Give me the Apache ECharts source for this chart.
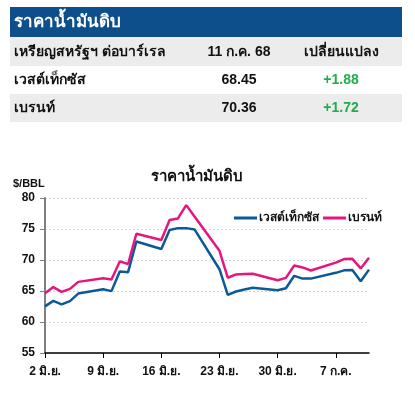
<!DOCTYPE html>
<html>
<head>
<meta charset="utf-8">
<script src="https://cdn.jsdelivr.net/npm/echarts@6/dist/echarts.min.js"></script>
<style>
html,body{margin:0;padding:0;background:#fff;}
#c{width:415px;height:396px;}
</style>
</head>
<body>
<div id="c"></div>
<script>
// ---- data ----
var dates = ['2025-06-02','2025-06-03','2025-06-04','2025-06-05','2025-06-06',
  '2025-06-09','2025-06-10','2025-06-11','2025-06-12','2025-06-13',
  '2025-06-16','2025-06-17','2025-06-18','2025-06-19','2025-06-20',
  '2025-06-23','2025-06-24','2025-06-25','2025-06-26','2025-06-27',
  '2025-06-30','2025-07-01','2025-07-02','2025-07-03','2025-07-04',
  '2025-07-07','2025-07-08','2025-07-09','2025-07-10','2025-07-11'];
var wti = [62.52,63.41,62.85,63.37,64.58,
  65.29,64.98,68.15,68.04,72.98,
  71.77,74.84,75.14,75.14,74.93,
  68.51,64.37,64.92,65.24,65.52,
  65.11,65.45,67.45,67.00,67.00,
  67.93,68.33,68.38,66.57,68.45];
var brent = [64.63,65.63,64.86,65.34,66.47,
  67.04,66.87,69.77,69.36,74.23,
  73.23,76.45,76.70,78.85,77.01,
  71.48,67.14,67.68,67.73,67.77,
  66.74,67.11,69.11,68.80,68.30,
  69.58,70.15,70.19,68.64,70.36];
var seriesNames = ['เวสต์เท็กซัส','เบรนท์'];
var xTickLabels = ['2 มิ.ย.','9 มิ.ย.','16 มิ.ย.','23 มิ.ย.','30 มิ.ย.','7 ก.ค.'];
var axisStart = '2025-06-02';
var axisEnd = '2025-07-11';
var yTicks = [55,60,65,70,75,80];
var tableHeader = ['เหรียญสหรัฐฯ ต่อบาร์เรล','11 ก.ค. 68','เปลี่ยนแปลง'];
var tableRows = [['เวสต์เท็กซัส','68.45','+1.88'],['เบรนท์','70.36','+1.72']];
var boxTitle = 'ราคาน้ำมันดิบ';
var chartTitle = 'ราคาน้ำมันดิบ';
var unitLabel = '$/BBL';

// ---- helpers ----
function dayOff(d){ return (Date.parse(d+'T00:00:00Z') - Date.parse(axisStart+'T00:00:00Z'))/86400000; }
var tickValues = xTickLabels.map(function(_,i){ return i*7; });
function pairs(vals){ return dates.map(function(d,i){ return [dayOff(d), vals[i]]; }); }

var FONT = '"Liberation Sans", "Noto Sans", sans-serif';
var BLUE = '#0b5a97';
var PINK = '#e5177e';

var chart = echarts.init(document.getElementById('c'));

var g = [];
g.push({type:'rect', shape:{x:10,y:7,width:392,height:30}, style:{fill:'#0d4f8a'}});
g.push({type:'text', x:14, y:22, style:{text:boxTitle, fill:'#fff', font:'bold 17px '+FONT, textVerticalAlign:'middle'}});
g.push({type:'rect', shape:{x:10,y:37,width:392,height:29}, style:{fill:'#ececec'}});
g.push({type:'rect', shape:{x:10,y:94,width:392,height:28}, style:{fill:'#ececec'}});
var rowY = [52, 80, 108];
var allRows = [tableHeader].concat(tableRows);
allRows.forEach(function(r, i){
  g.push({type:'text', x:14, y:rowY[i], style:{text:r[0], fill:'#111', font:'bold 14px '+FONT, textVerticalAlign:'middle'}});
  g.push({type:'text', x:239, y:rowY[i], style:{text:r[1], fill:'#111', font:'bold 14px '+FONT, textAlign:'center', textVerticalAlign:'middle'}});
  g.push({type:'text', x:341, y:rowY[i], style:{text:r[2], fill: i===0 ? '#111' : '#1fae4b', font:'bold 14px '+FONT, textAlign:'center', textVerticalAlign:'middle'}});
});
g.push({type:'text', x:197, y:177, style:{text:chartTitle, fill:'#111', font:'bold 15px '+FONT, textAlign:'center', textVerticalAlign:'middle'}});
g.push({type:'text', x:13, y:184, style:{text:unitLabel, fill:'#111', font:'bold 11px '+FONT, textVerticalAlign:'middle'}});

chart.setOption({
  animation:false,
  backgroundColor:'#fff',
  graphic:g,
  grid:{left:45, right:46, top:198, bottom:43, containLabel:false},
  legend:{
    left:229, top:207, itemGap:4, itemWidth:23, itemHeight:3,
    icon:'rect',
    data:seriesNames,
    textStyle:{fontFamily:FONT, fontWeight:'bold', fontSize:12, color:'#111', padding:[0,0,0,-3]}
  },
  xAxis:{
    type:'value', min:0, max:dayOff(axisEnd), interval:7,
    axisLine:{show:true, onZero:false, lineStyle:{color:'#000', width:1.5}},
    axisTick:{show:true, length:5, customValues:tickValues, lineStyle:{color:'#000'}},
    axisLabel:{customValues:tickValues, margin:13, fontFamily:FONT, fontWeight:'bold', fontSize:12, color:'#111',
      formatter:function(v){ var i=Math.round(v/7); return xTickLabels[i]||''; }},
    splitLine:{show:false}
  },
  yAxis:{
    type:'value', min:yTicks[0], max:yTicks[yTicks.length-1], interval:5,
    axisLine:{show:true, lineStyle:{color:'#808080', width:2}},
    axisTick:{show:true, length:5, lineStyle:{color:'#808080'}},
    axisLabel:{margin:10, fontFamily:FONT, fontWeight:'bold', fontSize:12, color:'#111'},
    splitLine:{show:true, lineStyle:{color:'#d4d4d4', type:[2,2], width:1}}
  },
  series:[
    {name:seriesNames[0], type:'line', data:pairs(wti), showSymbol:false, symbol:'none',
      lineStyle:{color:BLUE, width:2.5}, itemStyle:{color:BLUE}},
    {name:seriesNames[1], type:'line', data:pairs(brent), showSymbol:false, symbol:'none',
      lineStyle:{color:PINK, width:2.5}, itemStyle:{color:PINK}}
  ]
});
</script>
</body>
</html>
